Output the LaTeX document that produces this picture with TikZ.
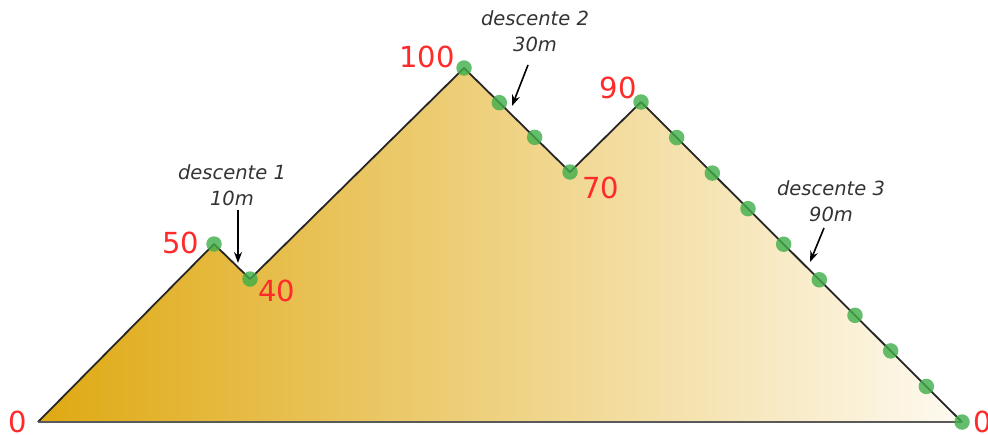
\documentclass[tikz,border=0pt]{standalone}
\usepackage{fontspec}
\setsansfont{DejaVu Sans}
\usetikzlibrary{arrows.meta,calc}
\definecolor{GoldDark}{HTML}{DFA912}
\definecolor{GoldLight}{HTML}{FEFAF1}
\definecolor{PeakRed}{HTML}{FF2A2A}
\definecolor{DotGreen}{HTML}{3FAE49}
\tikzset{
  altlabel/.style={font=\sffamily\fontsize{29}{29}\selectfont,text=PeakRed,inner sep=0pt},
  greendot/.style={circle,fill=DotGreen,fill opacity=0.8,minimum size=15.5pt,inner sep=0pt},
  notelabel/.style={font=\sffamily\itshape\fontsize{19.5}{26}\selectfont,text=black!80,align=center,inner sep=0pt},
  notearrow/.style={-{Stealth[length=11pt,width=8pt]},line width=1.6pt,black},
}
\begin{document}
\begin{tikzpicture}[x=1pt,y=-1pt]
  \useasboundingbox (0,0) rectangle (988,434);
  % profile of the descents
  \coordinate (p0) at (38,422);
  \coordinate (p1) at (214,244);
  \coordinate (p2) at (250,279);
  \coordinate (p3) at (464,68);
  \coordinate (p4) at (570,172);
  \coordinate (p5) at (641,102);
  \coordinate (p6) at (962,422);
  \shade[left color=GoldDark,right color=GoldLight]
    (p0) -- (p1) -- (p2) -- (p3) -- (p4) -- (p5) -- (p6) -- cycle;
  \draw[line width=1.8pt,line join=round,black!85] (p0) -- (p1) -- (p2) -- (p3) -- (p4) -- (p5) -- (p6);
  \draw[line width=2.4pt,gray!70!black] (p0) -- (p6);
  % points every 10m
  \node[greendot] (d1-0) at (p1) {};
  \node[greendot] (d1-1) at (p2) {};
  \foreach \i in {0,...,3}
    \node[greendot] (d2-\i) at ($(p3)!\i/3!(p4)$) {};
  \foreach \i in {0,...,9}
    \node[greendot] (d3-\i) at ($(p5)!\i/9!(p6)$) {};
  % altitudes
  \node[altlabel] (h0a) at (18,422) {0};
  \node[altlabel] (h50) at (181,243) {50};
  \node[altlabel] (h40) at (277,291) {40};
  \node[altlabel] (h100) at (427,57) {100};
  \node[altlabel] (h70) at (601,188) {70};
  \node[altlabel] (h90) at (618,88) {90};
  \node[altlabel] (h0b) at (983,422) {0};
  % descents
  \node[notelabel] (n1) at (232,185) {descente 1\\10m};
  \node[notelabel] (n2) at (535,31) {descente 2\\30m};
  \node[notelabel] (n3) at (831,201) {descente 3\\90m};
  \coordinate (a1s) at (238,210);
  \coordinate (a1e) at (238,263);
  \coordinate (a2s) at (528,65);
  \coordinate (a2e) at (512,106);
  \coordinate (a3s) at (824,228);
  \coordinate (a3e) at (810,262);
  \draw[notearrow] (a1s) -- (a1e);
  \draw[notearrow] (a2s) -- (a2e);
  \draw[notearrow] (a3s) -- (a3e);
\end{tikzpicture}
\end{document}
